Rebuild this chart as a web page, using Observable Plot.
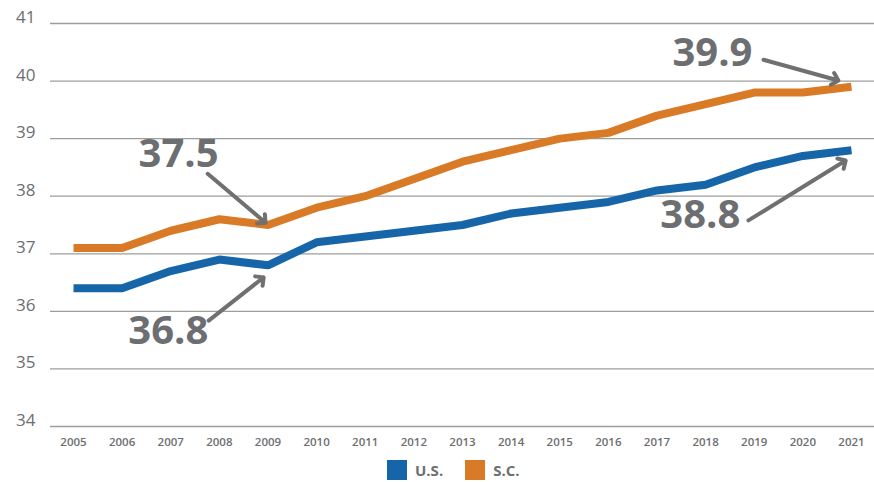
<!DOCTYPE html>
<html>
<head>
<meta charset="utf-8">
<script src="https://cdn.jsdelivr.net/npm/d3@7"></script>
<script src="https://cdn.jsdelivr.net/npm/@observablehq/plot@0.6"></script>
<style>
  body { margin: 0; background: #fff; font-family: "Open Sans", sans-serif; }
  #legend { display: flex; align-items: center; padding-left: 387px; margin-top: 5px; height: 20px; }
  .sw { width: 20px; height: 20px; display: inline-block; }
  .lab { font-weight: 700; font-size: 15px; color: #6d6e71; margin-left: 8px; margin-right: 22px; }
</style>
</head>
<body>
<div id="chart"></div>
<div id="legend"></div>
<script>
const years = [2005,2006,2007,2008,2009,2010,2011,2012,2013,2014,2015,2016,2017,2018,2019,2020,2021];
const us = [36.4,36.4,36.7,36.9,36.8,37.2,37.3,37.4,37.5,37.7,37.8,37.9,38.1,38.2,38.5,38.7,38.8];
const sc = [37.1,37.1,37.4,37.6,37.5,37.8,38.0,38.3,38.6,38.8,39.0,39.1,39.4,39.6,39.8,39.8,39.9];
const yTicks = [34,35,36,37,38,39,40,41];
const seriesNames = ["U.S.", "S.C."];
const seriesColors = ["#1565a8", "#d97a27"];

// annotation labels and arrows (data units)
const labels = [
  {text: "37.5", x: 2007.16, y: 38.50},
  {text: "36.8", x: 2006.95, y: 35.44},
  {text: "39.9", x: 2018.14, y: 40.27},
  {text: "38.8", x: 2017.89, y: 37.44}
];
const arrows = [
  {x1: 2007.76, y1: 38.39, x2: 2008.95, y2: 37.54},
  {x1: 2007.78, y1: 35.84, x2: 2008.91, y2: 36.59},
  {x1: 2019.19, y1: 40.37, x2: 2020.73, y2: 40.01},
  {x1: 2018.88, y1: 37.58, x2: 2020.88, y2: 38.62}
];

const rows = [];
years.forEach((yr, i) => {
  rows.push({year: yr, value: us[i], series: "U.S."});
  rows.push({year: yr, value: sc[i], series: "S.C."});
});

const gray = "#6d6e71";
const chart = Plot.plot({
  width: 874,
  height: 455,
  marginLeft: 50,
  marginRight: 0,
  marginTop: 23,
  marginBottom: 29,
  insetLeft: 23,
  insetRight: 23,
  style: {fontFamily: "Open Sans, sans-serif", background: "#fff"},
  x: {domain: [2005, 2021], axis: null},
  y: {domain: [34, 41], axis: null},
  color: {domain: seriesNames, range: seriesColors},
  marks: [
    Plot.ruleY(yTicks, {stroke: "#9d9d9d", strokeWidth: 1.3}),
    Plot.axisY(yTicks, {tickSize: 0, tickPadding: 0, dx: -15, dy: -6, fontSize: 17, fill: gray, label: null,
      tickFormat: d => String(d), frameAnchor: "left", textAnchor: "end"}),
    Plot.text(years, {x: d => d, y: 34, text: d => String(d), dy: 16, fontSize: 11.5, fontWeight: 600, fill: gray}),
    Plot.line(rows, {x: "year", y: "value", z: "series", stroke: "series", strokeWidth: 8,
      strokeLinejoin: "miter", strokeLinecap: "butt"}),
    Plot.arrow(arrows, {x1: "x1", y1: "y1", x2: "x2", y2: "y2", stroke: "#707070", strokeWidth: 4,
      headLength: 3.2, headAngle: 90, bend: 0}),
    Plot.text(labels, {x: "x", y: "y", text: "text", lineAnchor: "bottom", textAnchor: "middle",
      fontSize: 40, fontWeight: 700, fill: gray})
  ]
});
document.getElementById("chart").appendChild(chart);

const legend = document.getElementById("legend");
seriesNames.forEach((n, i) => {
  const sw = document.createElement("span");
  sw.className = "sw";
  sw.style.background = seriesColors[i];
  const lab = document.createElement("span");
  lab.className = "lab";
  lab.textContent = n;
  legend.appendChild(sw);
  legend.appendChild(lab);
});
</script>
</body>
</html>
